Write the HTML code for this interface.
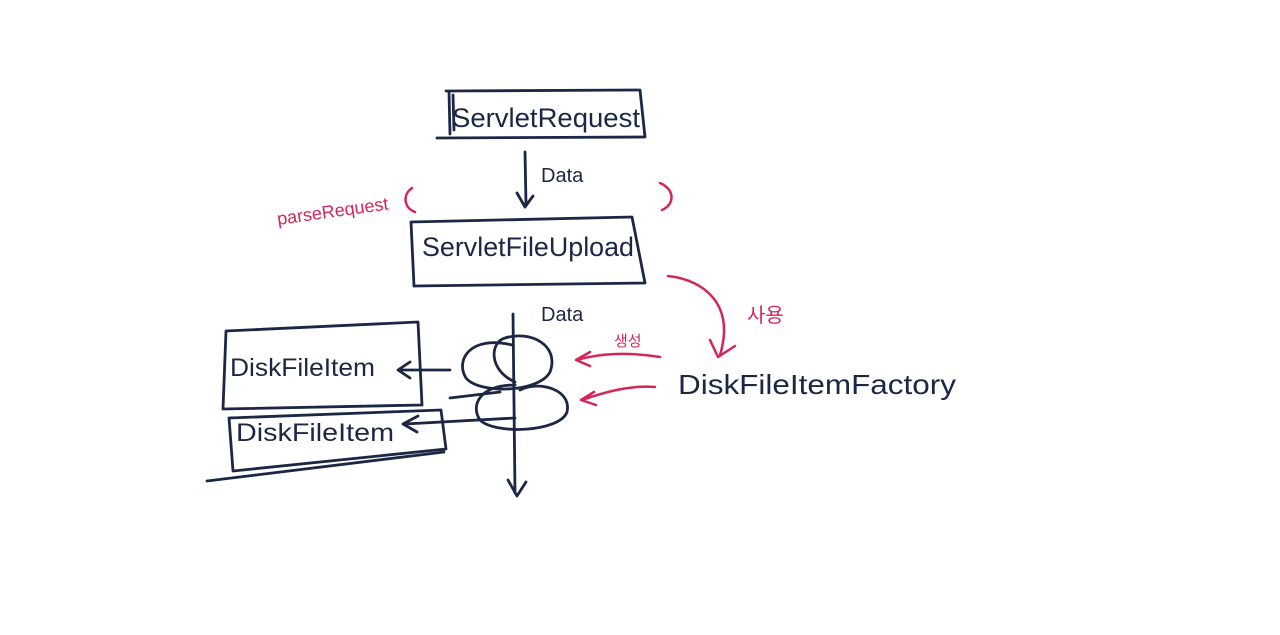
<!DOCTYPE html>
<html><head><meta charset="utf-8"><style>
html,body{margin:0;padding:0;background:#fff;width:1280px;height:635px;overflow:hidden}
svg{display:block}
text{font-family:"Liberation Sans","Noto Sans CJK KR",sans-serif}
</style></head><body>
<svg width="1280" height="635" viewBox="0 0 1280 635" fill="none" stroke-linecap="round" stroke-linejoin="round">
<g stroke="#1c2745" stroke-width="2.8">
<path d="M446 91 L640 90 L645 137 L437 138 M449 92 L450 134 M453 95 L454 130"/>
<path d="M525 152 L526 205 M517 193 L525 207 L533 196"/>
<path d="M411 222 L632 217 L645 283 L414 286 Z"/>
<path d="M513 314 L515 493 M508 480 L517 496 L526 482"/>
<path d="M512 345 C470 335 455 360 466 378 C480 395 540 392 550 372 C560 345 530 330 505 338 C490 342 488 370 515 382"/>
<path d="M515 385 C480 385 470 405 480 420 C495 435 560 432 567 412 C572 390 540 380 520 390"/>
<path d="M226 331 L418 322 L422 405 L223 409 Z"/>
<path d="M450 370 L400 370 M410 362 L398 370 L410 378"/>
<path d="M229 418 L441 410 L446 449 L233 471 Z M207 481 L444 452"/>
<path d="M515 418 L405 424 M418 416 L403 424 L417 432"/>
<path d="M450 398 L500 392"/>
</g>
<g fill="#1c2745">
<text x="452" y="127" font-size="27" textLength="188" lengthAdjust="spacingAndGlyphs">ServletRequest</text>
<text x="541" y="182" font-size="20">Data</text>
<text x="422" y="256" font-size="27" textLength="212" lengthAdjust="spacingAndGlyphs">ServletFileUpload</text>
<text x="541" y="321" font-size="20">Data</text>
<text x="230" y="376" font-size="25" textLength="145" lengthAdjust="spacingAndGlyphs">DiskFileItem</text>
<text x="236" y="441" font-size="25" textLength="158" lengthAdjust="spacingAndGlyphs">DiskFileItem</text>
<text x="678" y="394" font-size="28" textLength="278" lengthAdjust="spacingAndGlyphs">DiskFileItemFactory</text>
</g>
<g stroke="#d4265a" stroke-width="2.5">
<path d="M412 188 C402 195 404 208 415 212"/>
<path d="M660 183 C676 190 674 205 662 210"/>
<path d="M668 276 C705 280 735 305 720 355 M710 340 L718 357 L735 346"/>
<path d="M660 357 C630 352 600 353 577 360 M590 352 L576 360 L590 366"/>
<path d="M655 387 C630 385 605 392 582 400 M594 392 L581 400 L596 405"/>
</g>
<g fill="#d4265a">
<text x="278" y="225" font-size="18" transform="rotate(-8 278 225)">parseRequest</text>
<text x="747" y="322" font-size="20">사용</text>
<text x="614" y="346" font-size="15">생성</text>
</g>
</svg>
</body></html>
